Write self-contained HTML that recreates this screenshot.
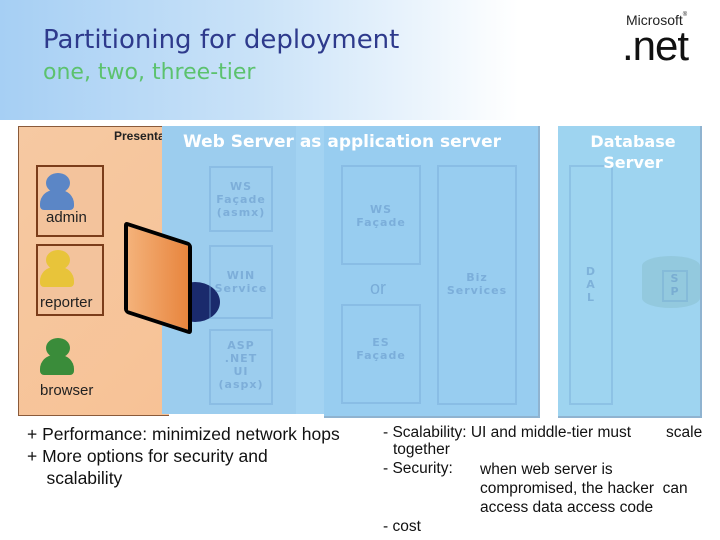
<!DOCTYPE html>
<html><head><meta charset="utf-8"><style>
*{margin:0;padding:0}
body{width:720px;height:540px;position:relative;overflow:hidden;background:#fff;font-family:"Liberation Sans",sans-serif}
.a{position:absolute}
.hdr{left:0;top:0;width:720px;height:120px;background:linear-gradient(90deg,#a6cff4 0%,#c9e2f8 35%,#ffffff 72%)}
.box{position:absolute;border:2px solid rgba(110,160,210,0.35);color:rgba(100,150,200,0.55);font-family:"DejaVu Sans",sans-serif;font-weight:bold;font-size:11px;text-align:center;letter-spacing:1px}
.t{position:absolute;font-size:15.5px;color:#111}
</style></head><body>
<div class="a hdr"></div>
<div class="a" style="left:43px;top:25px;font-size:26px;color:#2e3a8c;font-family:'DejaVu Sans',sans-serif">Partitioning for deployment</div>
<div class="a" style="left:43px;top:60px;font-size:22px;color:#5cc26e;font-family:'DejaVu Sans',sans-serif">one, two, three-tier</div>
<div class="a" style="left:626px;top:12px;font-size:14px;color:#222">Microsoft<span style="font-size:6px;vertical-align:top">®</span></div>
<div class="a" style="left:622px;top:22px;font-size:42px;color:#111;letter-spacing:-1px">.net</div>

<div class="a" style="left:18px;top:126px;width:150px;height:288px;background:linear-gradient(135deg,#f6c9a2,#f7c296);border:1px solid #8a5a3a;border-right:none"></div>
<div class="a" style="left:114px;top:129px;font-size:12px;font-weight:bold;color:#222">Presentati</div>
<div class="a" style="left:36px;top:165px;width:64px;height:68px;border:2px solid #7b3d1a;background:#f3c39c"></div>
<div class="a" style="left:36px;top:244px;width:64px;height:68px;border:2px solid #7b3d1a;background:#f3c39c"></div>
<div class="a" style="left:46px;top:173px;width:24px;height:20px;border-radius:50%;background:#5b86c6"></div>
<div class="a" style="left:40px;top:190px;width:34px;height:20px;border-radius:14px 14px 4px 4px;background:#5b86c6"></div>
<div class="a" style="left:46px;top:250px;width:24px;height:20px;border-radius:50%;background:#e8c43a"></div>
<div class="a" style="left:40px;top:267px;width:34px;height:20px;border-radius:14px 14px 4px 4px;background:#e8c43a"></div>
<div class="a" style="left:46px;top:338px;width:24px;height:20px;border-radius:50%;background:#3a8c3a"></div>
<div class="a" style="left:40px;top:355px;width:34px;height:20px;border-radius:14px 14px 4px 4px;background:#3a8c3a"></div>
<div class="a" style="left:46px;top:209px;font-size:15px;color:#222">admin</div>
<div class="a" style="left:40px;top:294px;font-size:15px;color:#222">reporter</div>
<div class="a" style="left:40px;top:382px;font-size:15px;color:#222">browser</div>

<div class="a" style="left:162px;top:126px;width:134px;height:288px;background:#9ccdee"></div>
<div class="a" style="left:296px;top:126px;width:28px;height:288px;background:#a3d3f2"></div>
<div class="a" style="left:324px;top:126px;width:214px;height:290px;background:#98cdf0;border-right:2px solid #8fb3d0;border-bottom:2px solid #8fb3d0"></div>
<div class="a" style="left:558px;top:126px;width:142px;height:290px;background:#9ed4f0;border-right:2px solid #8fb3d0;border-bottom:2px solid #8fb3d0"></div>

<div class="a" style="left:170px;top:282px;width:50px;height:40px;border-radius:50%;background:#1a2a6c"></div>
<div class="a" style="left:124px;top:232px;width:60px;height:84px;background:linear-gradient(90deg,#f4b27a,#e8853e);border:4px solid #000;border-radius:4px;transform:skewY(18deg)"></div>

<div class="box" style="left:209px;top:166px;width:64px;height:66px;padding-top:12px;box-sizing:border-box">WS<br>Façade<br>(asmx)</div>
<div class="box" style="left:209px;top:245px;width:64px;height:74px;padding-top:22px;box-sizing:border-box">WIN<br>Service</div>
<div class="box" style="left:209px;top:329px;width:64px;height:76px;padding-top:8px;box-sizing:border-box">ASP<br>.NET<br>UI<br>(aspx)</div>
<div class="box" style="left:341px;top:165px;width:80px;height:100px;padding-top:36px;box-sizing:border-box">WS<br>Façade</div>
<div class="a" style="left:370px;top:278px;font-size:18px;color:rgba(100,150,200,0.6)">or</div>
<div class="box" style="left:341px;top:304px;width:80px;height:100px;padding-top:30px;box-sizing:border-box">ES<br>Façade</div>
<div class="box" style="left:437px;top:165px;width:80px;height:240px;padding-top:104px;box-sizing:border-box">Biz<br>Services</div>
<div class="box" style="left:569px;top:165px;width:44px;height:240px;padding-top:98px;box-sizing:border-box">D<br>A<br>L</div>
<div class="a" style="left:642px;top:256px;width:58px;height:52px;border-radius:29px/10px;background:#93c9de"></div>
<div class="box" style="left:662px;top:270px;width:22px;height:28px;font-size:11px">S<br>P</div>

<div class="a" style="left:183px;top:132px;font-size:17px;font-weight:bold;color:#fff;font-family:'DejaVu Sans',sans-serif">Web Server as application server</div>
<div class="a" style="left:578px;top:131px;width:110px;text-align:center;font-size:16px;font-weight:bold;color:#fff;font-family:'DejaVu Sans',sans-serif;line-height:21px">Database<br>Server</div>

<div class="t" style="left:27px;top:423px;font-size:17.5px;line-height:22px">+ Performance: minimized network hops<br>+ More options for security and<br>&nbsp;&nbsp;&nbsp;&nbsp;scalability</div>
<div class="t" style="left:383px;top:424px">- Scalability: UI and middle-tier must</div>
<div class="t" style="left:666px;top:424px">scale</div>
<div class="t" style="left:393px;top:441px">together</div>
<div class="t" style="left:383px;top:460px">- Security:</div>
<div class="t" style="left:480px;top:460px;line-height:19px">when web server is<br>compromised, the hacker&nbsp; can<br>access data access code</div>
<div class="t" style="left:383px;top:518px">- cost</div>
</body></html>
